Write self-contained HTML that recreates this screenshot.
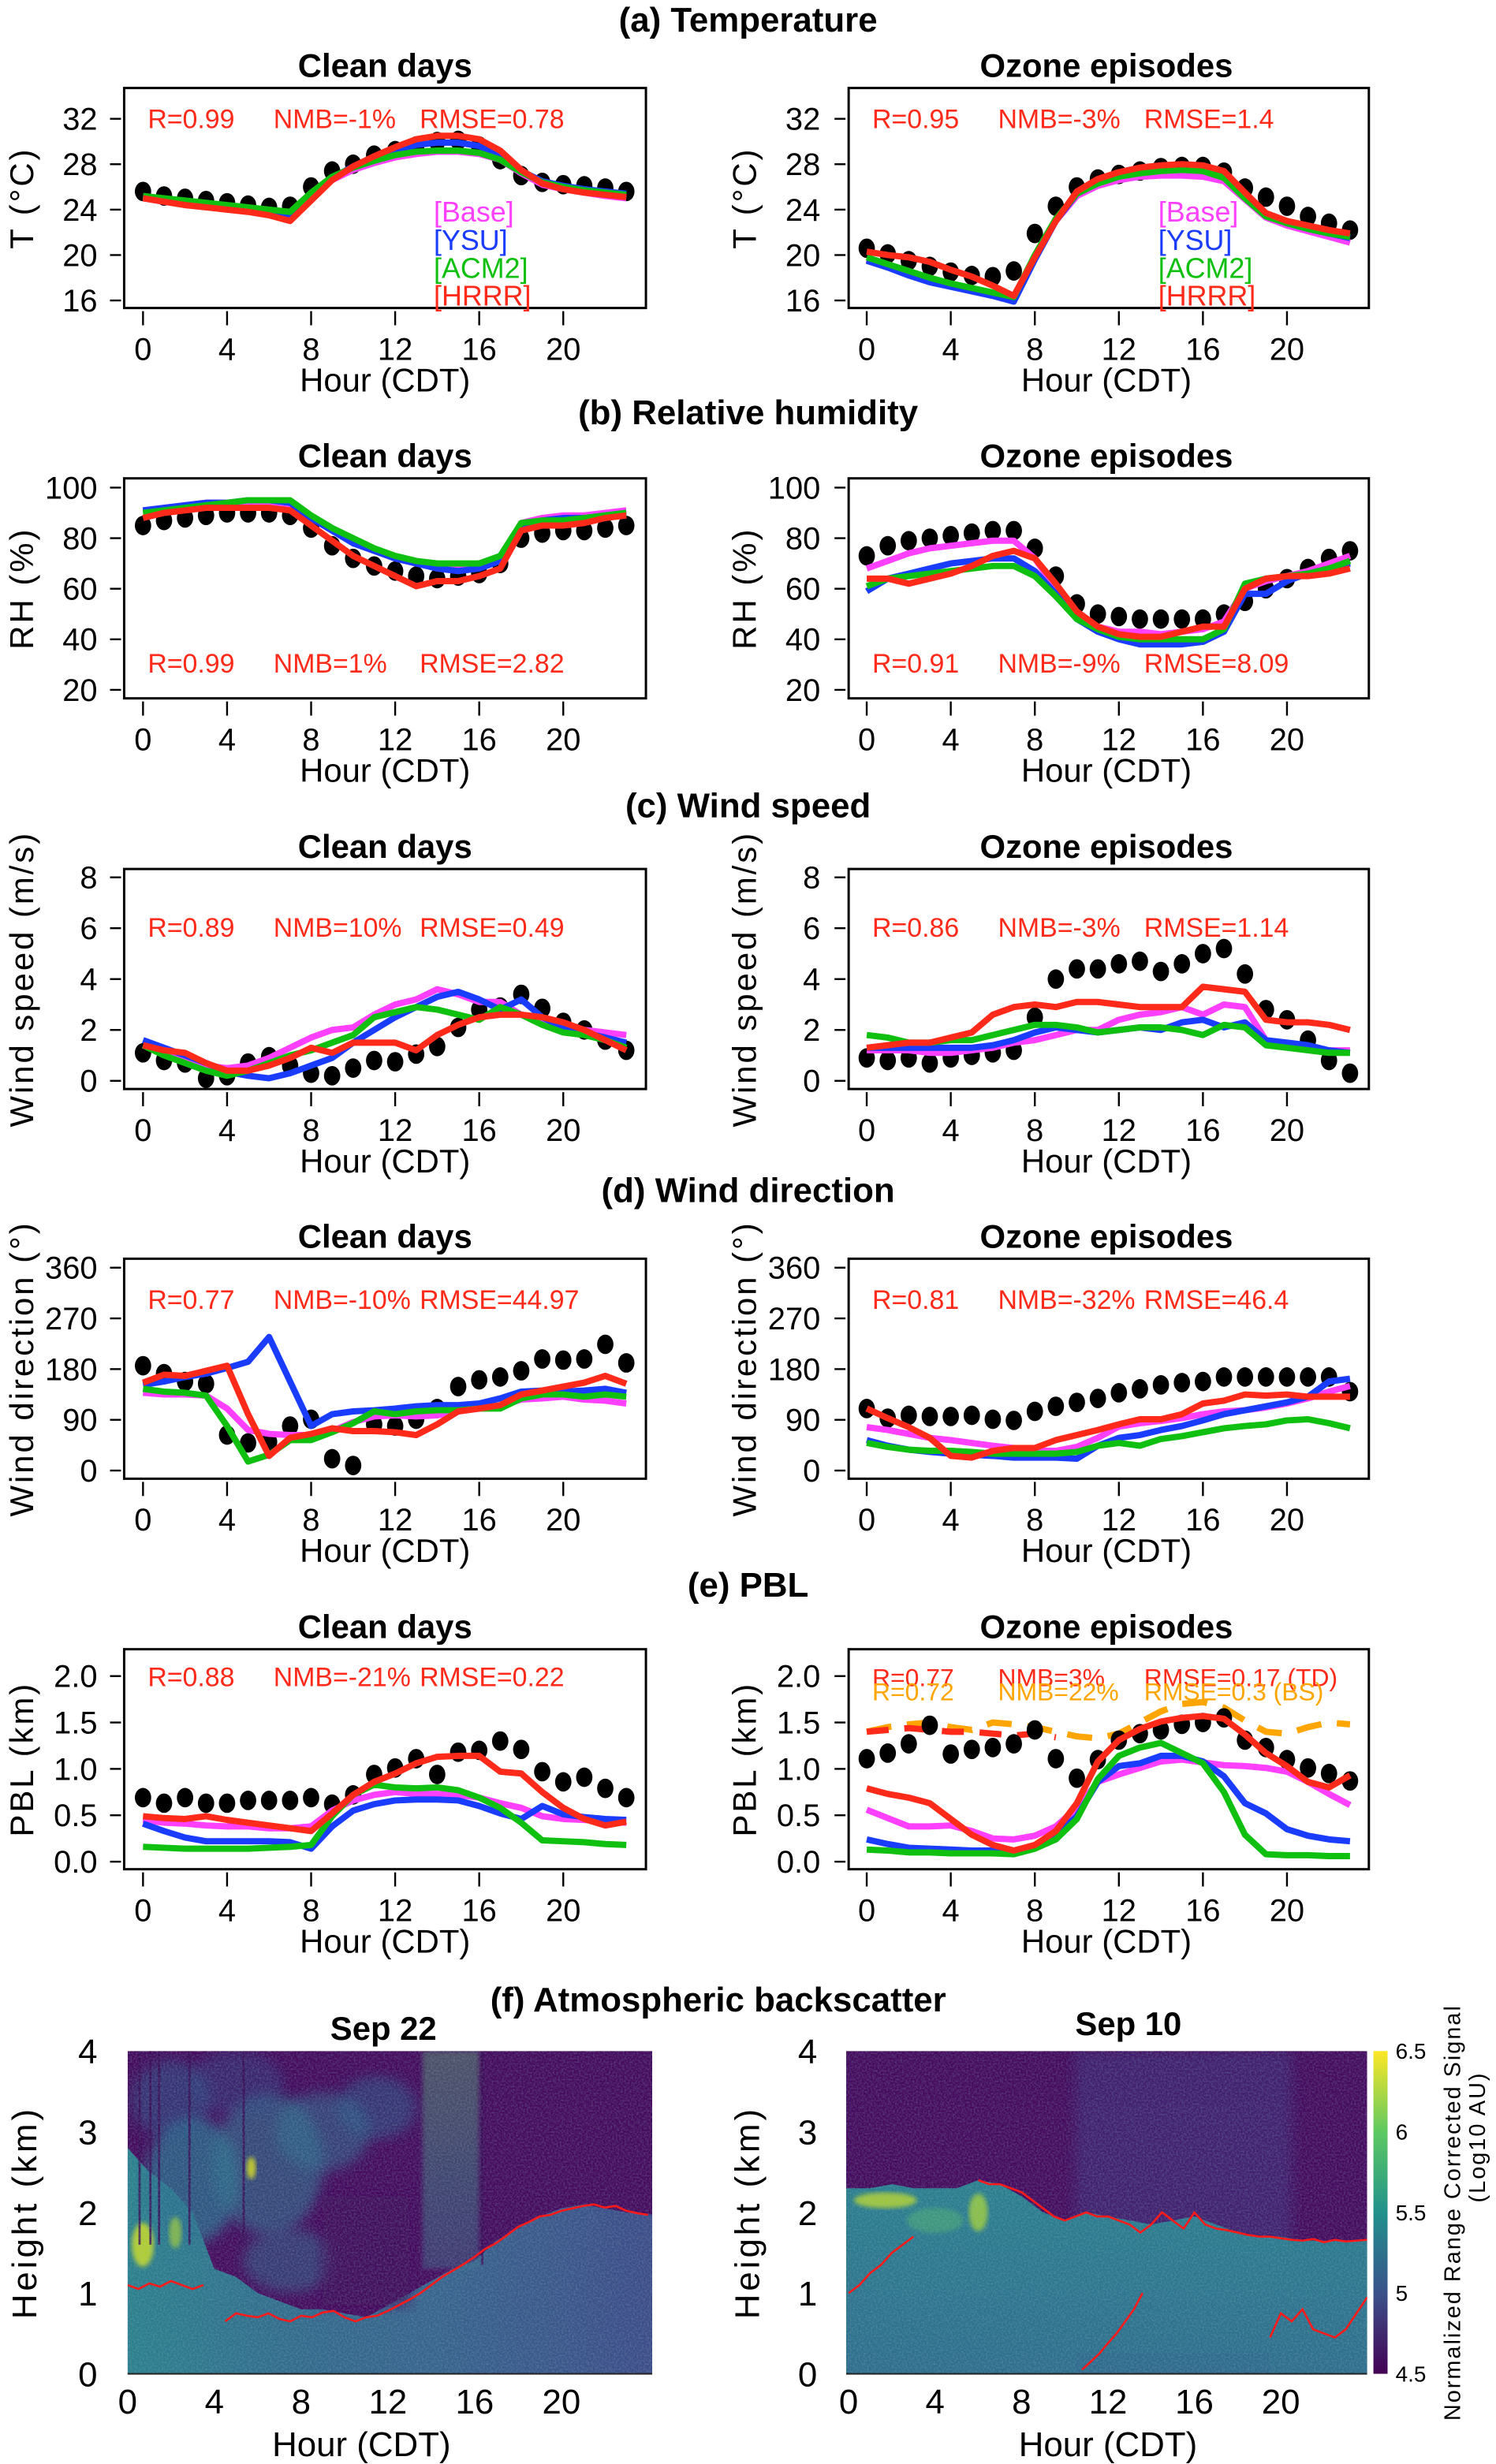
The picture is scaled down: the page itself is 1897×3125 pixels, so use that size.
<!DOCTYPE html>
<html>
<head>
<meta charset="utf-8">
<title>Meteorology evaluation</title>
<style>
html,body{margin:0;padding:0;background:#fff;}
svg{display:block;}
text{font-family:"Liberation Sans",Arial,sans-serif;}
</style>
</head>
<body>
<svg id="fig" xmlns="http://www.w3.org/2000/svg" width="1897" height="3125" viewBox="0 0 951.9 1568" preserveAspectRatio="none">
<defs>
<linearGradient id="viridis" x1="0" y1="1" x2="0" y2="0">
<stop offset="0" stop-color="#440154"/><stop offset="0.25" stop-color="#3b528b"/><stop offset="0.5" stop-color="#21918c"/><stop offset="0.75" stop-color="#5ec962"/><stop offset="1" stop-color="#fde725"/>
</linearGradient>
<linearGradient id="lowL" x1="0" y1="0" x2="1" y2="0">
<stop offset="0" stop-color="#2b7f8d"/><stop offset="0.35" stop-color="#33688c"/><stop offset="0.6" stop-color="#37618c"/><stop offset="1" stop-color="#3d4a88"/>
</linearGradient>
<linearGradient id="lowR" x1="0" y1="0" x2="0" y2="1">
<stop offset="0" stop-color="#2a7e8e"/><stop offset="1" stop-color="#2f6d8d"/>
</linearGradient>
<linearGradient id="stripe" x1="0" y1="0" x2="0" y2="1">
<stop offset="0" stop-color="#5aa874"/><stop offset="0.6" stop-color="#3b8a86"/><stop offset="1" stop-color="#3b6f8a"/>
</linearGradient>
<filter id="blur4"><feGaussianBlur stdDeviation="4"/></filter>
<filter id="blur2"><feGaussianBlur stdDeviation="1.5"/></filter>
<filter id="noise" x="0" y="0" width="100%" height="100%">
<feTurbulence type="fractalNoise" baseFrequency="0.9" numOctaves="1" seed="3"/>
<feColorMatrix type="matrix" values="0 0 0 0 0.3  0 0 0 0 0.55  0 0 0 0 0.6  0 0 0 1.6 -0.55"/>
</filter>
<clipPath id="clipL"><rect x="81.2" y="1305.2" width="333.8" height="205.4"/></clipPath>
<clipPath id="clipR"><rect x="538.4" y="1305.2" width="331.5" height="205.4"/></clipPath>
</defs>
</svg>
<script>
// ---------------- DATA ----------------
const hours = [0,1,2,3,4,5,6,7,8,9,10,11,12,13,14,15,16,17,18,19,20,21,22,23];
const xTickLabels = [0,4,8,12,16,20];

// (a) Temperature
const tempCleanObs  = [25.6,25.2,25.0,24.8,24.6,24.4,24.2,24.3,26.0,27.4,28.0,28.8,29.2,29.6,30.0,30.1,29.6,28.4,27.0,26.4,26.2,26.1,25.9,25.6];
const tempCleanBase = [25.0,24.7,24.5,24.3,24.1,23.9,23.7,23.3,25.2,26.6,27.5,28.1,28.6,28.9,29.1,29.1,28.9,28.4,27.2,26.2,25.8,25.5,25.2,25.0];
const tempCleanYSU  = [25.2,24.9,24.7,24.5,24.3,24.1,23.8,23.4,25.3,26.8,27.8,28.6,29.2,29.7,29.9,29.9,29.6,28.8,27.4,26.5,26.1,25.8,25.6,25.4];
const tempCleanACM2 = [25.2,25.0,24.8,24.6,24.4,24.2,24.0,23.8,25.5,26.9,27.7,28.3,28.8,29.1,29.2,29.2,29.0,28.4,27.3,26.4,26.0,25.7,25.5,25.3];
const tempCleanHRRR = [25.0,24.7,24.4,24.2,24.0,23.8,23.5,23.0,24.8,26.6,27.8,28.7,29.5,30.2,30.5,30.5,30.2,29.2,27.5,26.3,25.8,25.5,25.3,25.1];
const tempOzoneObs  = [20.6,20.1,19.5,19.0,18.5,18.2,18.1,18.6,21.9,24.3,26.0,26.7,27.1,27.4,27.7,27.8,27.8,27.3,25.9,25.1,24.3,23.4,22.8,22.2];
const tempOzoneBase = [19.6,19.0,18.4,17.8,17.3,17.0,16.6,16.1,19.8,23.0,25.2,26.1,26.6,26.9,27.0,27.0,26.9,26.5,24.9,23.3,22.6,22.1,21.6,21.1];
const tempOzoneYSU  = [19.5,18.9,18.2,17.6,17.2,16.8,16.4,15.9,19.6,23.0,25.4,26.4,27.0,27.3,27.5,27.6,27.5,27.0,25.2,23.5,22.8,22.3,21.9,21.5];
const tempOzoneACM2 = [19.8,19.2,18.6,18.0,17.5,17.1,16.7,16.3,20.0,23.2,25.4,26.3,26.9,27.2,27.4,27.5,27.4,26.8,25.0,23.4,22.8,22.3,21.9,21.6];
const tempOzoneHRRR = [20.3,20.0,19.8,19.4,18.7,18.1,17.3,16.4,19.8,23.0,25.6,26.7,27.3,27.7,27.9,28.0,27.9,27.4,25.5,23.7,23.0,22.6,22.2,21.9];

// (b) Relative humidity
const rhCleanObs  = [85,87,88,89,90,90,90,89,84,77,72,69,67,65,64,65,66,70,80,82,83,83,84,85];
const rhCleanBase = [91,92,93,94,94,94,94,93,88,83,78,75,72,70,69,69,70,72,86,88,89,89,90,91];
const rhCleanYSU  = [91,92,93,94,94,95,95,94,88,83,78,75,72,70,68,67,68,71,85,87,88,88,89,90];
const rhCleanACM2 = [90,91,92,93,94,95,95,95,89,84,80,76,73,71,70,70,70,73,86,87,87,88,89,90];
const rhCleanHRRR = [88,90,91,92,92,92,92,91,85,79,73,69,65,61,63,63,65,68,83,85,85,86,88,89];
const rhOzoneObs  = [73,77,79,80,81,82,83,83,76,65,54,50,49,48,48,48,48,50,55,60,64,68,72,75];
const rhOzoneBase = [68,71,74,76,77,78,79,79,72,60,50,45,43,43,42,43,44,47,60,63,65,67,70,73];
const rhOzoneYSU  = [59,64,66,68,70,71,72,72,67,58,48,43,40,38,38,38,39,43,58,58,63,66,68,70];
const rhOzoneACM2 = [61,64,65,66,67,68,69,69,65,57,48,44,41,40,40,40,40,44,62,64,65,66,68,71];
const rhOzoneHRRR = [64,64,62,64,66,69,73,75,72,62,51,45,42,41,41,43,45,45,60,64,65,65,66,68];

// (c) Wind speed
const wsCleanObs  = [1.1,0.8,0.7,0.1,0.2,0.7,0.95,0.6,0.3,0.2,0.5,0.8,0.75,1.05,1.35,2.1,2.8,2.9,3.4,2.85,2.3,2.0,1.6,1.2];
const wsCleanBase = [1.4,1.2,0.9,0.6,0.5,0.6,0.9,1.3,1.7,2.0,2.1,2.6,3.0,3.2,3.6,3.4,3.1,3.1,2.6,2.3,2.1,2.0,1.9,1.8];
const wsCleanYSU  = [1.6,1.3,1.0,0.7,0.35,0.2,0.1,0.3,0.6,0.9,1.5,2.0,2.5,2.9,3.3,3.5,3.2,2.8,3.2,2.5,2.1,1.9,1.7,1.5];
const wsCleanACM2 = [1.4,1.0,0.7,0.4,0.2,0.4,0.7,1.0,1.2,1.5,1.8,2.5,2.7,2.9,2.8,2.6,2.4,2.9,2.6,2.2,1.9,1.8,1.6,1.3];
const wsCleanHRRR = [1.4,1.2,1.1,0.7,0.4,0.4,0.6,0.9,1.3,1.1,1.5,1.5,1.5,1.2,1.8,2.2,2.5,2.6,2.6,2.5,2.3,2.0,1.6,1.2];
const wsOzoneObs  = [0.9,0.8,0.9,0.7,0.9,1.0,1.1,1.2,2.5,4.0,4.4,4.4,4.6,4.7,4.3,4.6,5.0,5.2,4.2,2.8,2.4,1.6,0.8,0.3];
const wsOzoneBase = [1.2,1.2,1.2,1.1,1.1,1.2,1.3,1.5,1.6,1.8,2.0,2.0,2.4,2.6,2.7,2.9,2.6,3.0,2.9,1.6,1.4,1.3,1.2,1.2];
const wsOzoneYSU  = [1.3,1.3,1.3,1.3,1.3,1.3,1.4,1.6,1.9,2.1,2.0,1.9,2.0,2.1,2.0,2.3,2.4,2.1,2.3,1.6,1.5,1.4,1.2,1.1];
const wsOzoneACM2 = [1.8,1.7,1.5,1.5,1.6,1.6,1.8,2.0,2.2,2.2,2.1,1.9,2.0,2.1,2.1,2.0,1.8,2.2,2.1,1.4,1.3,1.2,1.1,1.1];
const wsOzoneHRRR = [1.3,1.4,1.5,1.5,1.7,1.9,2.6,2.9,3.0,2.9,3.1,3.1,3.0,2.9,2.9,2.9,3.7,3.6,3.5,2.4,2.3,2.3,2.2,2.0];

// (d) Wind direction
const wdCleanObs  = [186,172,158,154,63,49,51,79,91,21,9,82,79,91,110,149,161,166,177,198,196,198,224,191];
const wdCleanBase = [138,135,135,133,110,72,65,63,63,70,86,96,98,96,98,105,110,114,126,128,131,126,124,119];
const wdCleanYSU  = [152,158,166,172,182,193,237,158,79,100,105,107,110,114,116,116,119,128,140,142,140,142,145,138];
const wdCleanACM2 = [145,140,138,133,79,16,28,54,54,68,84,105,100,105,107,107,110,110,128,135,135,131,135,131];
const wdCleanHRRR = [156,170,168,177,186,100,26,58,65,75,70,70,68,63,82,105,110,116,135,142,149,156,168,154];
const wdOzoneObs  = [110,93,98,96,96,98,91,89,105,114,121,128,138,145,152,156,158,166,166,166,166,166,166,140];
const wdOzoneBase = [77,72,65,58,54,49,44,40,35,35,42,58,78,84,88,93,100,105,107,112,119,128,140,150];
const wdOzoneYSU  = [54,44,37,33,30,28,26,23,23,23,21,44,58,63,72,79,89,100,107,114,121,131,158,163];
const wdOzoneACM2 = [49,42,37,35,35,33,30,30,30,30,33,44,49,44,56,61,68,75,79,82,89,91,84,75];
const wdOzoneHRRR = [110,93,77,58,26,23,35,40,40,54,63,72,82,91,91,100,119,124,135,133,135,131,131,131];

// (e) PBL
const pblCleanObs  = [0.69,0.63,0.69,0.63,0.63,0.66,0.66,0.66,0.69,0.62,0.72,0.94,1.01,1.11,0.94,1.18,1.2,1.30,1.21,0.97,0.86,0.91,0.79,0.69];
const pblCleanBase = [0.45,0.42,0.41,0.39,0.38,0.38,0.36,0.36,0.38,0.55,0.66,0.72,0.75,0.73,0.73,0.72,0.69,0.63,0.58,0.49,0.46,0.45,0.43,0.42];
const pblCleanYSU  = [0.41,0.33,0.26,0.22,0.22,0.22,0.22,0.21,0.14,0.38,0.55,0.62,0.66,0.67,0.67,0.66,0.60,0.52,0.46,0.60,0.51,0.48,0.46,0.45];
const pblCleanACM2 = [0.16,0.15,0.14,0.14,0.14,0.14,0.15,0.16,0.18,0.49,0.72,0.83,0.80,0.79,0.80,0.77,0.69,0.58,0.42,0.23,0.22,0.21,0.19,0.18];
const pblCleanHRRR = [0.49,0.47,0.46,0.49,0.45,0.42,0.39,0.36,0.33,0.52,0.72,0.86,0.95,1.06,1.13,1.14,1.14,0.97,0.95,0.75,0.58,0.46,0.39,0.43];
const pblOzoneObs  = [1.11,1.17,1.27,1.47,1.16,1.21,1.23,1.27,1.42,1.11,0.90,1.10,1.31,1.38,1.42,1.48,1.50,1.55,1.31,1.23,1.10,1.01,0.95,0.87];
const pblOzoneBase = [0.56,0.47,0.38,0.38,0.39,0.33,0.25,0.24,0.28,0.38,0.58,0.86,0.94,1.01,1.08,1.10,1.07,1.04,1.03,1.01,0.97,0.86,0.73,0.61];
const pblOzoneYSU  = [0.24,0.19,0.15,0.14,0.13,0.12,0.12,0.11,0.15,0.29,0.49,0.86,1.03,1.06,1.14,1.14,1.08,0.92,0.63,0.52,0.35,0.28,0.24,0.22];
const pblOzoneACM2 = [0.13,0.12,0.10,0.10,0.09,0.09,0.09,0.08,0.14,0.24,0.46,0.89,1.14,1.23,1.28,1.17,1.06,0.75,0.29,0.08,0.07,0.07,0.06,0.06];
const pblOzoneHRRR = [0.79,0.73,0.69,0.63,0.46,0.29,0.18,0.12,0.18,0.33,0.63,1.08,1.31,1.43,1.51,1.55,1.57,1.54,1.37,1.17,1.03,0.86,0.80,0.93];
const pblOzoneBS   = [1.40,1.45,1.48,1.50,1.45,1.42,1.50,1.48,1.45,1.40,1.35,1.33,1.38,1.50,1.62,1.70,1.72,1.66,1.52,1.40,1.38,1.45,1.50,1.48];
const pblOzoneTDHours = [0,1,2,3,4,5,6,7,8,9];
const pblOzoneTD   = [1.40,1.42,1.44,1.42,1.40,1.40,1.38,1.36,1.38,1.34];

// (f) lidar-derived PBL height traces (hour, km)
const sep22PblHours = [0,0.5,1,1.5,2,2.5,3,3.5];
const sep22PblKm    = [1.1,1.05,1.12,1.08,1.15,1.1,1.05,1.1];
const sep22Pbl2Hours= [4.5,5,5.5,6,6.5,7,7.5,8,8.5,9,9.5,10,10.5,11,11.5,12,12.5,13,13.5,14,14.5,15,15.5,16,16.5,17,17.5,18,18.5,19,19.5,20,20.5,21,21.5,22,22.5,23,23.5,24];
const sep22Pbl2Km   = [0.65,0.75,0.72,0.7,0.75,0.68,0.65,0.72,0.7,0.76,0.78,0.7,0.65,0.7,0.72,0.78,0.85,0.92,1.0,1.1,1.2,1.28,1.36,1.45,1.55,1.62,1.72,1.82,1.88,1.95,1.97,2.02,2.05,2.08,2.1,2.06,2.08,2.02,1.99,1.97];
const sep10TopHours = [6,6.5,7,7.5,8,8.5,9,9.5,10,10.5,11,11.5,12,12.5,13,13.5,14,14.5,15,15.5,16,16.5,17,17.5,18,18.5,19,19.5,20,20.5,21,21.5,22,22.5,23,23.5,24];
const sep10TopKm    = [2.4,2.35,2.35,2.3,2.25,2.15,2.05,1.95,1.9,1.95,2.0,1.95,1.95,1.9,1.85,1.75,1.85,2.0,1.9,1.8,2.0,1.85,1.8,1.78,1.75,1.72,1.7,1.7,1.68,1.66,1.65,1.67,1.63,1.66,1.64,1.65,1.66];
const sep10EarlyHours = [0,0.5,1,1.5,2,2.5,3];
const sep10EarlyKm    = [1.0,1.1,1.25,1.35,1.5,1.6,1.7];
const sep10MidHours = [10.8,11.2,11.6,12,12.4,12.8,13.2,13.6];
const sep10MidKm    = [0.05,0.15,0.25,0.38,0.5,0.65,0.8,1.0];
const sep10LateHours = [19.5,20,20.5,21,21.5,22,22.5,23,23.5,24];
const sep10LateKm    = [0.45,0.75,0.65,0.8,0.55,0.5,0.45,0.55,0.75,0.95];

const colorbarTicks = [4.5,5,5.5,6,6.5];
const heightTicks = [0,1,2,3,4];

// ---------------- DRAWING ----------------
const NS = 'http://www.w3.org/2000/svg';
const svg = document.getElementById('fig');
function mk(tag, attrs, parent) {
  const e = document.createElementNS(NS, tag);
  for (const k in attrs) e.setAttribute(k, attrs[k]);
  (parent || svg).appendChild(e);
  return e;
}
function txt(str, attrs, parent) {
  const t = mk('text', attrs, parent);
  t.textContent = str;
  return t;
}
const COL = {base:'#ff40ff', ysu:'#1a3cff', acm2:'#10c010', hrrr:'#ff2a1a', obs:'#000'};

const rows = [
  {key:'a', title:'(a) Temperature', titleY:12, top:56, vmin:16, vmax:32, p0:191.2, p1:75.6, ticks:[16,20,24,28,32], fmt:v=>String(v), ylab:'T (°C)', statY:75.5,
   data:[[tempCleanObs,tempCleanBase,tempCleanYSU,tempCleanACM2,tempCleanHRRR],[tempOzoneObs,tempOzoneBase,tempOzoneYSU,tempOzoneACM2,tempOzoneHRRR]],
   stats:[['R=0.99','NMB=-1%','RMSE=0.78'],['R=0.95','NMB=-3%','RMSE=1.4']]},
  {key:'b', title:'(b) Relative humidity', titleY:262, top:304.4, vmin:20, vmax:100, p0:439, p1:310.3, ticks:[20,40,60,80,100], fmt:v=>String(v), ylab:'RH (%)', statY:422,
   data:[[rhCleanObs,rhCleanBase,rhCleanYSU,rhCleanACM2,rhCleanHRRR],[rhOzoneObs,rhOzoneBase,rhOzoneYSU,rhOzoneACM2,rhOzoneHRRR]],
   stats:[['R=0.99','NMB=1%','RMSE=2.82'],['R=0.91','NMB=-9%','RMSE=8.09']]},
  {key:'c', title:'(c) Wind speed', titleY:512, top:553, vmin:0, vmax:8, p0:687.8, p1:558.3, ticks:[0,2,4,6,8], fmt:v=>String(v), ylab:'Wind speed (m/s)', statY:590,
   data:[[wsCleanObs,wsCleanBase,wsCleanYSU,wsCleanACM2,wsCleanHRRR],[wsOzoneObs,wsOzoneBase,wsOzoneYSU,wsOzoneACM2,wsOzoneHRRR]],
   stats:[['R=0.89','NMB=10%','RMSE=0.49'],['R=0.86','NMB=-3%','RMSE=1.14']]},
  {key:'d', title:'(d) Wind direction', titleY:757, top:801, vmin:0, vmax:360, p0:935.8, p1:806.7, ticks:[0,90,180,270,360], fmt:v=>String(v), ylab:'Wind direction (°)', statY:827,
   data:[[wdCleanObs,wdCleanBase,wdCleanYSU,wdCleanACM2,wdCleanHRRR],[wdOzoneObs,wdOzoneBase,wdOzoneYSU,wdOzoneACM2,wdOzoneHRRR]],
   stats:[['R=0.77','NMB=-10%','RMSE=44.97'],['R=0.81','NMB=-32%','RMSE=46.4']]},
  {key:'e', title:'(e) PBL', titleY:1008, top:1049.5, vmin:0, vmax:2, p0:1184.7, p1:1066.6, ticks:[0,0.5,1,1.5,2], fmt:v=>v.toFixed(1), ylab:'PBL (km)', statY:1067,
   data:[[pblCleanObs,pblCleanBase,pblCleanYSU,pblCleanACM2,pblCleanHRRR],[pblOzoneObs,pblOzoneBase,pblOzoneYSU,pblOzoneACM2,pblOzoneHRRR]],
   stats:[['R=0.88','NMB=-21%','RMSE=0.22'],['R=0.77','NMB=3%','RMSE=0.17 (TD)']]}
];

const sides = [
  {name:'clean', sub:'Clean days', boxX:79, boxW:332, x0:91, lab:62, ylabX:13, subX:245},
  {name:'ozone', sub:'Ozone episodes', boxX:540, boxW:331, x0:551.5, lab:522, ylabX:473, subX:704}
];
const XSTEP = 13.37;

function pathFrom(xs, ys) {
  let d = '';
  for (let i = 0; i < xs.length; i++) d += (i ? 'L' : 'M') + xs[i].toFixed(2) + ' ' + ys[i].toFixed(2);
  return d;
}

rows.forEach(row => {
  const g = mk('g', {});
  
  
  const tt = txt(row.title, {x:476, y:row.titleY + 8, 'text-anchor':'middle', 'font-size':22, 'font-weight':'bold'}, g);
  
  
  const yScale = v => row.p0 + (v - row.vmin) * (row.p1 - row.p0) / (row.vmax - row.vmin);
  sides.forEach((s, si) => {
    const xScale = h => s.x0 + h * XSTEP;
    const pg = mk('g', {}, g);
    
    
    const st = txt(s.sub, {x:s.subX, y:row.top - 7, 'text-anchor':'middle', 'font-size':21, 'font-weight':'bold'}, pg);
    
    
    row.ticks.forEach(v => {
      const y = yScale(v);
      const tk = mk('line', {x1:s.boxX - 9, x2:s.boxX - 2, y1:y, y2:y, stroke:'#000', 'stroke-width':1.2}, pg);
      
      
      const tl = txt(row.fmt(v), {x:s.lab, y:y + 7, 'text-anchor':'end', 'font-size':20}, pg);
      
      
    });
    const bottom = row.top + 140;
    xTickLabels.forEach(h => {
      const x = xScale(h);
      const tk = mk('line', {x1:x, x2:x, y1:bottom + 2, y2:bottom + 11, stroke:'#000', 'stroke-width':1.2}, pg);
      
      
      const tl = txt(String(h), {x:x, y:bottom + 33, 'text-anchor':'middle', 'font-size':20}, pg);
      
      
    });
    const xt = txt('Hour (CDT)', {x:s.subX, y:bottom + 53, 'text-anchor':'middle', 'font-size':21}, pg);
    
    
    const yt = txt(row.ylab, {x:0, y:0, 'text-anchor':'middle', 'font-size':21, 'letter-spacing':1.5, transform:'translate(' + (s.ylabX + 8) + ',' + (row.top + 70) + ') rotate(-90)'}, pg);
    
    
    const cid = 'clip-' + row.key + si;
    const cp = mk('clipPath', {id:cid}, pg);
    mk('rect', {x:s.boxX, y:row.top, width:s.boxW, height:140}, cp);
    const plot = mk('g', {'clip-path':'url(#' + cid + ')'}, pg);
    
    
    const [obs, base, ysu, acm2, hrrr] = row.data[si];
    if (row.key === 'e' && si === 1) {
      const bs = mk('path', {d:pathFrom(hours.map(xScale), pblOzoneBS.map(yScale)), fill:'none', stroke:'#ffa500', 'stroke-width':4, 'stroke-dasharray':'16 10'}, plot);
      
      
      const td = mk('path', {d:pathFrom(pblOzoneTDHours.map(xScale), pblOzoneTD.map(yScale)), fill:'none', stroke:'#ff2a1a', 'stroke-width':4, 'stroke-dasharray':'14 10'}, plot);
      
      
    }
    obs.forEach((v, i) => {
      const c = mk('ellipse', {cx:xScale(hours[i]), cy:yScale(v), rx:5.2, ry:6.2, fill:COL.obs}, plot);
      
      
    });
    [['base', base], ['ysu', ysu], ['acm2', acm2], ['hrrr', hrrr]].forEach(([k, arr]) => {
      const p = mk('path', {d:pathFrom(hours.map(xScale), arr.map(yScale)), fill:'none', stroke:COL[k], 'stroke-width':4, 'stroke-linejoin':'round'}, plot);
      
      
    });
    const bx = mk('rect', {x:s.boxX, y:row.top, width:s.boxW, height:140, fill:'none', stroke:'#000', 'stroke-width':1.5}, pg);
    
    
    const sx = [s.boxX + 15, s.boxX + 95, s.boxX + 188];
    row.stats[si].forEach((str, j) => {
      const t = txt(str, {x:sx[j], y:row.statY + 6, 'font-size':row.key === 'e' && si === 1 ? 16 : 17, fill:'#ff2a1a'}, pg);
      
      
    });
    if (row.key === 'e' && si === 1) {
      ['R=0.72', 'NMB=22%', 'RMSE=0.3 (BS)'].forEach((str, j) => {
        const t = txt(str, {x:sx[j], y:1082, 'font-size':16, fill:'#ffa500'}, pg);
        
        
      });
    }
    if (row.key === 'a') {
      const lx = s.boxX + 197;
      [['[Base]', COL.base, 134], ['[YSU]', COL.ysu, 152], ['[ACM2]', COL.acm2, 170], ['[HRRR]', COL.hrrr, 187.5]].forEach(([l, c, y]) => {
        const t = txt(l, {x:lx, y:y + 7, 'font-size':18, fill:c}, pg);
        
        
      });
    }
  });
});

// ---------------- (f) backscatter ----------------
const fg = mk('g', {});


const ft = txt('(f) Atmospheric backscatter', {x:457, y:1280, 'text-anchor':'middle', 'font-size':22, 'font-weight':'bold'}, fg);



const T = 1305.2, B = 1510.6;
const kmY = k => B - k * (B - T) / 4;
const lidar = [
  {name:'sep22', title:'Sep 22', tx:244, ty:1298, L:81.2, R:415, x0:81.2, step:13.8, clip:'clipL', labX:62, ylabX:15, xc:230},
  {name:'sep10', title:'Sep 10', tx:718, ty:1295, L:538.4, R:869.9, x0:540, step:13.75, clip:'clipR', labX:520, ylabX:475, xc:705}
];
lidar.forEach((P, pi) => {
  const hx = h => P.x0 + h * P.step;
  const g = mk('g', {}, fg);
  
  
  const t = txt(P.title, {x:P.tx, y:P.ty, 'text-anchor':'middle', 'font-size':21, 'font-weight':'bold'}, g);
  
  
  const img = mk('g', {'clip-path':'url(#' + P.clip + ')'}, g);
  
  
  mk('rect', {x:P.L, y:T, width:P.R - P.L, height:B - T, fill:'#45095d'}, img);
  if (pi === 0) {
    const top = [[0,2.8],[1,2.5],[2,2.3],[3,2.0],[4,1.3],[5,1.2],[6,1.0],[7,0.9],[8,0.8],[9,0.8],[10,0.75],[11,0.7],[12,0.85],[13,1.0],[14,1.15],[15,1.3],[16,1.4],[17,1.65],[18,1.8],[19,1.95],[20,2.05],[21,2.1],[22,2.05],[23,2.0],[24.3,1.97]];
    let d = 'M' + hx(0) + ' ' + B;
    top.forEach(p => d += 'L' + hx(p[0]) + ' ' + kmY(p[1]));
    d += 'L' + hx(24.3) + ' ' + B + 'Z';
    mk('path', {d:d, fill:'url(#lowL)'}, img);
    const clouds = [[3,2.4,30,40,'#2b6f8e',0.75],[6.5,2.6,35,45,'#2f718d',0.6],[9,3.0,30,25,'#2f6c8d',0.55],[11.5,3.3,25,20,'#2a5f8c',0.5],[2,3.4,25,25,'#2a5a8b',0.5],[7.5,1.4,30,20,'#2f6a8c',0.5],[5,3.6,30,20,'#2d4f88',0.4]];
    clouds.forEach(c => mk('ellipse', {cx:hx(c[0]), cy:kmY(c[1]), rx:c[2], ry:c[3], fill:c[4], opacity:c[5], filter:'url(#blur4)'}, img));
    mk('rect', {x:hx(9), y:kmY(2.2), width:hx(13) - hx(9), height:kmY(0.85) - kmY(2.2), fill:'#420a5c', opacity:0.8, filter:'url(#blur4)'}, img);
    mk('rect', {x:hx(13.6), y:T, width:hx(16.2) - hx(13.6), height:kmY(1.3) - T, fill:'url(#stripe)', opacity:0.45, filter:'url(#blur2)'}, img);
    mk('ellipse', {cx:hx(0.7), cy:kmY(1.6), rx:7, ry:14, fill:'#d6e21c', opacity:0.8, filter:'url(#blur2)'}, img);
    mk('ellipse', {cx:hx(2.2), cy:kmY(1.75), rx:4, ry:10, fill:'#b9de28', opacity:0.6, filter:'url(#blur2)'}, img);
    mk('ellipse', {cx:hx(5.7), cy:kmY(2.55), rx:3, ry:7, fill:'#e4e419', opacity:0.8, filter:'url(#blur2)'}, img);
    [0.5, 1.0, 1.4, 2.8, 5.3, 16.3].forEach(h => mk('rect', {x:hx(h), y:T, width:1.4, height:h > 16 ? kmY(1.35) - T : kmY(1.6) - T, fill:'#3a0a55', opacity:0.8}, img));
  } else {
    mk('rect', {x:hx(10.5), y:T, width:hx(20.5) - hx(10.5), height:B - T, fill:'#3c3b84', opacity:0.45, filter:'url(#blur4)'}, img);
    const top = [[-0.2,2.3],[1,2.3],[2,2.35],[3,2.3],[4,2.3],[5,2.3],[6,2.4],[7,2.35],[8,2.2],[9,2.0],[10,1.9],[11,2.0],[12,1.95],[13,1.9],[14,1.85],[15,1.9],[16,1.95],[17,1.85],[18,1.75],[19,1.7],[20,1.7],[21,1.65],[22,1.65],[23,1.65],[24.2,1.65]];
    let d = 'M' + hx(-0.2) + ' ' + B;
    top.forEach(p => d += 'L' + hx(p[0]) + ' ' + kmY(p[1]));
    d += 'L' + hx(24.2) + ' ' + B + 'Z';
    mk('path', {d:d, fill:'url(#lowR)'}, img);
    mk('rect', {x:hx(10.5), y:kmY(0.25), width:hx(19.5) - hx(10.5), height:kmY(0) - kmY(0.25), fill:'#31688d', opacity:0.6}, img);
    mk('ellipse', {cx:hx(1.7), cy:kmY(2.15), rx:20, ry:5, fill:'#c8df24', opacity:0.75, filter:'url(#blur2)'}, img);
    mk('ellipse', {cx:hx(6), cy:kmY(2.0), rx:6, ry:12, fill:'#b5dd2b', opacity:0.7, filter:'url(#blur2)'}, img);
    mk('ellipse', {cx:hx(4), cy:kmY(1.9), rx:18, ry:8, fill:'#55b86a', opacity:0.45, filter:'url(#blur2)'}, img);
  }
  mk('rect', {x:P.L, y:T, width:P.R - P.L, height:B - T, filter:'url(#noise)', opacity:0.35}, img);
  const traces = pi === 0 ? [[sep22PblHours, sep22PblKm], [sep22Pbl2Hours, sep22Pbl2Km]]
                          : [[sep10TopHours, sep10TopKm], [sep10EarlyHours, sep10EarlyKm], [sep10MidHours, sep10MidKm], [sep10LateHours, sep10LateKm]];
  traces.forEach(([hs, ks]) => {
    const p = mk('path', {d:pathFrom(hs.map(hx), ks.map(kmY)), fill:'none', stroke:'#ff1a1a', 'stroke-width':1.3}, img);
    
    
  });
  const fr = mk('line', {x1:P.L, x2:P.R, y1:B, y2:B, stroke:'#222', 'stroke-width':1}, g);
  
  
  heightTicks.forEach(k => {
    const tl = txt(String(k), {x:P.labX, y:kmY(k) + 8, 'text-anchor':'end', 'font-size':22}, g);
    
    
  });
  xTickLabels.forEach(h => {
    const tl = txt(String(h), {x:hx(h), y:1536, 'text-anchor':'middle', 'font-size':22}, g);
    
    
  });
  const xt = txt('Hour (CDT)', {x:P.xc, y:1563, 'text-anchor':'middle', 'font-size':22}, g);
  
  
  const yt = txt('Height (km)', {x:0, y:0, 'text-anchor':'middle', 'font-size':22, 'letter-spacing':2, transform:'translate(' + (P.ylabX + 8) + ',1408) rotate(-90)'}, g);
  
  
});

const cb = mk('rect', {x:873.9, y:T, width:9, height:B - T, fill:'url(#viridis)'}, fg);


const cbY = v => B - (v - 4.5) * (B - T) / 2;
colorbarTicks.forEach(v => {
  const t = txt(String(v), {x:888, y:cbY(v) + 5, 'font-size':14}, fg);
  
  
});
const cl1 = txt('Normalized Range Corrected Signal', {x:0, y:0, 'text-anchor':'middle', 'font-size':14.5, 'letter-spacing':1, transform:'translate(929,1408) rotate(-90)'}, fg);


const cl2 = txt('(Log10 AU)', {x:0, y:0, 'text-anchor':'middle', 'font-size':14.5, 'letter-spacing':1, transform:'translate(945,1360) rotate(-90)'}, fg);


</script>
</body>
</html>
